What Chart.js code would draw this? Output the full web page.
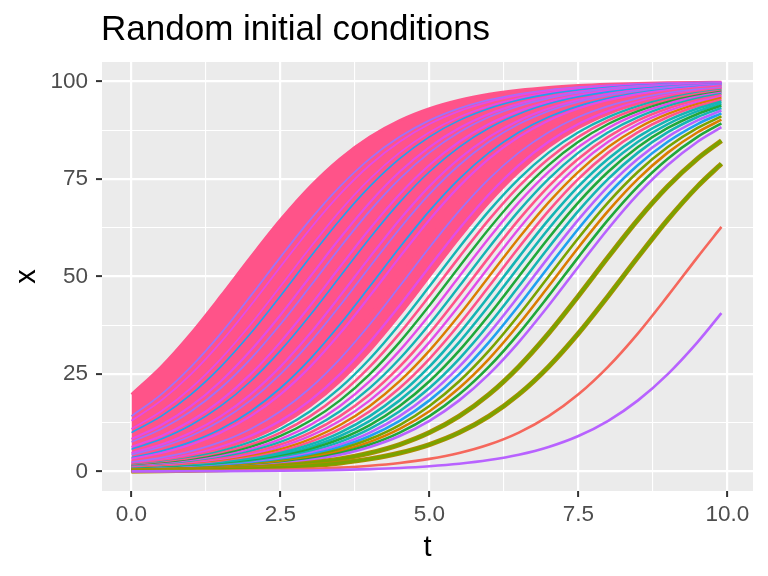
<!DOCTYPE html>
<html>
<head>
<meta charset="utf-8">
<title>Random initial conditions</title>
<script src="https://cdn.jsdelivr.net/npm/chart.js@4.4.1/dist/chart.umd.min.js"></script>
<style>
  html, body { margin: 0; padding: 0; background: #ffffff; }
  #wrap { width: 768px; height: 576px; }
</style>
</head>
<body>
<div id="wrap"><canvas id="chart" width="768" height="576"></canvas></div>
<script>
// time points the runs were read at
const times = [0, 0.5, 1, 1.5, 2, 2.5, 3, 3.5, 4, 4.5, 5, 5.5, 6, 6.5, 7, 7.5, 8, 8.5, 9, 9.5, 9.9];

// axis breaks + labels
const xBreaks = [0, 2.5, 5, 7.5, 10];
const xMinorBreaks = [1.25, 3.75, 6.25, 8.75];
const xLabels = ['0.0', '2.5', '5.0', '7.5', '10.0'];
const yBreaks = [0, 25, 50, 75, 100];
const yMinorBreaks = [12.5, 37.5, 62.5, 87.5];
const yLabels = ['0', '25', '50', '75', '100'];

const plotTitle = 'Random initial conditions';
const xTitle = 't';
const yTitle = 'x';

// dense pink sheaf: upper edge (lower edge is mid2 below)
const sheafTop    = [19.78, 26.89, 35.43, 45.02, 54.98, 64.57, 73.11, 80.22, 85.81, 90.03, 93.09, 95.26, 96.77, 97.81, 98.52, 99.00, 99.33, 99.55, 99.70, 99.80, 99.85];
const sheafInner  = [2.19, 3.23, 4.74, 6.91, 9.98, 14.19, 19.78, 26.89, 35.43, 45.02, 54.98, 64.57, 73.11, 80.22, 85.81, 90.03, 93.09, 95.26, 96.77, 97.81, 98.40];

// runs showing through the sheaf
const stripe1  = [14.19, 19.78, 26.89, 35.43, 45.02, 54.98, 64.57, 73.11, 80.22, 85.81, 90.03, 93.09, 95.26, 96.77, 97.81, 98.52, 99.00, 99.33, 99.55, 99.70, 99.78];
const stripe2  = [13.01, 18.24, 24.97, 33.18, 42.55, 52.50, 62.25, 71.10, 78.58, 84.55, 89.09, 92.41, 94.79, 96.44, 97.59, 98.37, 98.90, 99.26, 99.50, 99.67, 99.75];
const stripe3  = [10.91, 15.45, 21.42, 28.90, 37.75, 47.50, 57.45, 66.82, 75.03, 81.76, 86.99, 90.89, 93.70, 95.69, 97.07, 98.02, 98.66, 99.10, 99.39, 99.59, 99.71];
const stripe4  = [9.98, 14.19, 19.78, 26.89, 35.43, 45.02, 54.98, 64.57, 73.11, 80.22, 85.81, 90.03, 93.09, 95.26, 96.77, 97.81, 98.52, 99.00, 99.33, 99.55, 99.67];
const stripe5  = [8.32, 11.92, 16.80, 23.15, 31.00, 40.13, 50.00, 59.87, 69.00, 76.85, 83.20, 88.08, 91.68, 94.27, 96.08, 97.34, 98.20, 98.79, 99.18, 99.45, 99.60];
const stripe6  = [7.59, 10.91, 15.45, 21.42, 28.90, 37.75, 47.50, 57.45, 66.82, 75.03, 81.76, 86.99, 90.89, 93.70, 95.69, 97.07, 98.02, 98.66, 99.10, 99.39, 99.56];
const stripe7  = [6.30, 9.11, 13.01, 18.24, 24.97, 33.18, 42.55, 52.50, 62.25, 71.10, 78.58, 84.55, 89.09, 92.41, 94.79, 96.44, 97.59, 98.37, 98.90, 99.26, 99.46];
const stripe8  = [5.73, 8.32, 11.92, 16.80, 23.15, 31.00, 40.13, 50.00, 59.87, 69.00, 76.85, 83.20, 88.08, 91.68, 94.27, 96.08, 97.34, 98.20, 98.79, 99.18, 99.40];
const stripe9  = [4.74, 6.91, 9.98, 14.19, 19.78, 26.89, 35.43, 45.02, 54.98, 64.57, 73.11, 80.22, 85.81, 90.03, 93.09, 95.26, 96.77, 97.81, 98.52, 99.00, 99.27];
const stripe10 = [4.31, 6.30, 9.11, 13.01, 18.24, 24.97, 33.18, 42.55, 52.50, 62.25, 71.10, 78.58, 84.55, 89.09, 92.41, 94.79, 96.44, 97.59, 98.37, 98.90, 99.20];
const stripe11 = [3.56, 5.22, 7.59, 10.91, 15.45, 21.42, 28.90, 37.75, 47.50, 57.45, 66.82, 75.03, 81.76, 86.99, 90.89, 93.70, 95.69, 97.07, 98.02, 98.66, 99.02];
const stripe12 = [3.23, 4.74, 6.91, 9.98, 14.19, 19.78, 26.89, 35.43, 45.02, 54.98, 64.57, 73.11, 80.22, 85.81, 90.03, 93.09, 95.26, 96.77, 97.81, 98.52, 98.92];
const stripe13 = [2.66, 3.92, 5.73, 8.32, 11.92, 16.80, 23.15, 31.00, 40.13, 50.00, 59.87, 69.00, 76.85, 83.20, 88.08, 91.68, 94.27, 96.08, 97.34, 98.20, 98.68];
const stripe14 = [2.41, 3.56, 5.22, 7.59, 10.91, 15.45, 21.42, 28.90, 37.75, 47.50, 57.45, 66.82, 75.03, 81.76, 86.99, 90.89, 93.70, 95.69, 97.07, 98.02, 98.55];

// looser runs below the sheaf
const mid1  = [1.98, 2.93, 4.31, 6.30, 9.11, 13.01, 18.24, 24.97, 33.18, 42.55, 52.50, 62.25, 71.10, 78.58, 84.55, 89.09, 92.41, 94.79, 96.44, 97.59, 98.23];
const mid2  = [1.80, 2.66, 3.92, 5.73, 8.32, 11.92, 16.80, 23.15, 31.00, 40.13, 50.00, 59.87, 69.00, 76.85, 83.20, 88.08, 91.68, 94.27, 96.08, 97.34, 98.06];
const mid3  = [1.63, 2.41, 3.56, 5.22, 7.59, 10.91, 15.45, 21.42, 28.90, 37.75, 47.50, 57.45, 66.82, 75.03, 81.76, 86.99, 90.89, 93.70, 95.69, 97.07, 97.85];
const mid4  = [1.48, 2.19, 3.23, 4.74, 6.91, 9.98, 14.19, 19.78, 26.89, 35.43, 45.02, 54.98, 64.57, 73.11, 80.22, 85.81, 90.03, 93.09, 95.26, 96.77, 97.63];
const mid5  = [1.34, 1.98, 2.93, 4.31, 6.30, 9.11, 13.01, 18.24, 24.97, 33.18, 42.55, 52.50, 62.25, 71.10, 78.58, 84.55, 89.09, 92.41, 94.79, 96.44, 97.39];
const mid6  = [1.21, 1.80, 2.66, 3.92, 5.73, 8.32, 11.92, 16.80, 23.15, 31.00, 40.13, 50.00, 59.87, 69.00, 76.85, 83.20, 88.08, 91.68, 94.27, 96.08, 97.12];
const mid7  = [1.10, 1.63, 2.41, 3.56, 5.22, 7.59, 10.91, 15.45, 21.42, 28.90, 37.75, 47.50, 57.45, 66.82, 75.03, 81.76, 86.99, 90.89, 93.70, 95.69, 96.83];
const mid8  = [1.00, 1.48, 2.19, 3.23, 4.74, 6.91, 9.98, 14.19, 19.78, 26.89, 35.43, 45.02, 54.98, 64.57, 73.11, 80.22, 85.81, 90.03, 93.09, 95.26, 96.51];
const mid9  = [0.90, 1.34, 1.98, 2.93, 4.31, 6.30, 9.11, 13.01, 18.24, 24.97, 33.18, 42.55, 52.50, 62.25, 71.10, 78.58, 84.55, 89.09, 92.41, 94.79, 96.15];
const mid10 = [0.82, 1.21, 1.80, 2.66, 3.92, 5.73, 8.32, 11.92, 16.80, 23.15, 31.00, 40.13, 50.00, 59.87, 69.00, 76.85, 83.20, 88.08, 91.68, 94.27, 95.77];
const mid11 = [0.74, 1.10, 1.63, 2.41, 3.56, 5.22, 7.59, 10.91, 15.45, 21.42, 28.90, 37.75, 47.50, 57.45, 66.82, 75.03, 81.76, 86.99, 90.89, 93.70, 95.35];

// late starters
const late1  = [0.67, 1.00, 1.48, 2.19, 3.23, 4.74, 6.91, 9.98, 14.19, 19.78, 26.89, 35.43, 45.02, 54.98, 64.57, 73.11, 80.22, 85.81, 90.03, 93.09, 94.88];
const late2  = [0.61, 0.90, 1.34, 1.98, 2.93, 4.31, 6.30, 9.11, 13.01, 18.24, 24.97, 33.18, 42.55, 52.50, 62.25, 71.10, 78.58, 84.55, 89.09, 92.41, 94.37];
const late3  = [0.55, 0.82, 1.21, 1.80, 2.66, 3.92, 5.73, 8.32, 11.92, 16.80, 23.15, 31.00, 40.13, 50.00, 59.87, 69.00, 76.85, 83.20, 88.08, 91.68, 93.81];
const late4  = [0.50, 0.74, 1.10, 1.63, 2.41, 3.56, 5.22, 7.59, 10.91, 15.45, 21.42, 28.90, 37.75, 47.50, 57.45, 66.82, 75.03, 81.76, 86.99, 90.89, 93.21];
const late5  = [0.45, 0.67, 1.00, 1.48, 2.19, 3.23, 4.74, 6.91, 9.98, 14.19, 19.78, 26.89, 35.43, 45.02, 54.98, 64.57, 73.11, 80.22, 85.81, 90.03, 92.55];
const late6  = [0.41, 0.61, 0.90, 1.34, 1.98, 2.93, 4.31, 6.30, 9.11, 13.01, 18.24, 24.97, 33.18, 42.55, 52.50, 62.25, 71.10, 78.58, 84.55, 89.09, 91.83];
const late7  = [0.37, 0.55, 0.82, 1.21, 1.80, 2.66, 3.92, 5.73, 8.32, 11.92, 16.80, 23.15, 31.00, 40.13, 50.00, 59.87, 69.00, 76.85, 83.20, 88.08, 91.05];
const late8  = [0.33, 0.50, 0.74, 1.10, 1.63, 2.41, 3.56, 5.22, 7.59, 10.91, 15.45, 21.42, 28.90, 37.75, 47.50, 57.45, 66.82, 75.03, 81.76, 86.99, 90.20];
const late9  = [0.30, 0.45, 0.67, 1.00, 1.48, 2.19, 3.23, 4.74, 6.91, 9.98, 14.19, 19.78, 26.89, 35.43, 45.02, 54.98, 64.57, 73.11, 80.22, 85.81, 89.28];
const late10 = [0.27, 0.41, 0.61, 0.90, 1.34, 1.98, 2.93, 4.31, 6.30, 9.11, 13.01, 18.24, 24.97, 33.18, 42.55, 52.50, 62.25, 71.10, 78.58, 84.55, 88.28];
const late11 = [0.20, 0.30, 0.45, 0.67, 1.00, 1.48, 2.19, 3.23, 4.74, 6.91, 9.98, 14.19, 19.78, 26.89, 35.43, 45.02, 54.98, 64.57, 73.11, 80.22, 84.80];
const late12 = [0.14, 0.20, 0.30, 0.45, 0.67, 1.00, 1.48, 2.19, 3.23, 4.74, 6.91, 9.98, 14.19, 19.78, 26.89, 35.43, 45.02, 54.98, 64.57, 73.11, 78.91];
const late13 = [0.06, 0.09, 0.14, 0.20, 0.30, 0.45, 0.67, 1.00, 1.48, 2.19, 3.23, 4.74, 6.91, 9.98, 14.19, 19.78, 26.89, 35.43, 45.02, 54.98, 62.71];
const late14 = [0.02, 0.04, 0.06, 0.08, 0.12, 0.18, 0.27, 0.41, 0.61, 0.90, 1.34, 1.98, 2.93, 4.31, 6.30, 9.11, 13.01, 18.24, 24.97, 33.18, 40.61];

// colours
const PINK = '#FF5389', MAGENTA = '#E24CE8', LAVENDER = '#9E72FA', PURPLE = '#B862FF',
      BLUE = '#1FA0F0', TEAL = '#14B4B4', GREEN = '#1FA83A', OLIVE = '#78A300',
      GOLD = '#AE8C00', ORANGE = '#DB7C00', SALMON = '#F5675C';

// draw order: first is bottom
const runList = [
  [sheafTop, PINK, 2.6], [sheafInner, PINK, 2.6],
  [stripe1, LAVENDER, 1.8], [stripe2, MAGENTA, 1.8], [stripe3, MAGENTA, 1.8], [stripe4, BLUE, 1.6],
  [stripe5, MAGENTA, 2.2], [stripe6, LAVENDER, 1.8], [stripe7, MAGENTA, 2.2], [stripe8, BLUE, 1.6],
  [stripe9, MAGENTA, 2.2], [stripe10, LAVENDER, 1.8], [stripe11, BLUE, 1.8], [stripe12, MAGENTA, 2.2],
  [stripe13, PINK, 2.6], [stripe14, LAVENDER, 1.8],
  [mid1, MAGENTA, 2.4], [mid2, PINK, 2.6], [mid3, TEAL, 2.4], [mid4, PINK, 2.6], [mid5, GREEN, 2.4],
  [mid6, MAGENTA, 2.4], [mid7, TEAL, 2.4], [mid8, PINK, 2.6], [mid9, MAGENTA, 2.4], [mid10, ORANGE, 2.4],
  [mid11, PINK, 2.6],
  [late1, TEAL, 2.6], [late2, TEAL, 2.6], [late3, GREEN, 2.6], [late4, TEAL, 2.6], [late5, PURPLE, 2.6],
  [late6, BLUE, 2.6], [late7, OLIVE, 2.6], [late8, ORANGE, 2.6], [late9, GREEN, 2.6], [late10, PURPLE, 2.6],
  [late11, GOLD, 5], [late11, OLIVE, 3], [late12, GOLD, 5], [late12, OLIVE, 3],
  [late13, SALMON, 2.6], [late14, PURPLE, 2.6]
];
const sheafEdge = runList.findIndex(r => r[0] === mid2);

const FONT = '"Liberation Sans", Arial, Helvetica, sans-serif';

const datasets = runList.map(function(run, i) {
  return {
    data: times.map((t, k) => ({ x: t, y: run[0][k] })),
    borderColor: run[1],
    backgroundColor: run[1],
    borderWidth: run[2],
    fill: i === 0 ? { target: sheafEdge } : false,
    order: runList.length - i
  };
});

// grey panel + titles, ggplot style
const ggPanel = {
  id: 'ggPanel',
  beforeDraw(chart) {
    const { ctx, chartArea: a } = chart;
    ctx.save();
    ctx.fillStyle = '#FFFFFF';
    ctx.fillRect(0, 0, chart.width, chart.height);
    ctx.fillStyle = '#EBEBEB';
    ctx.fillRect(a.left, a.top, a.right - a.left, a.bottom - a.top);
    ctx.restore();
  },
  afterDraw(chart) {
    const { ctx, chartArea: a } = chart;
    ctx.save();
    ctx.fillStyle = '#000000';
    ctx.textBaseline = 'alphabetic';
    ctx.font = '35px ' + FONT;
    ctx.textAlign = 'left';
    ctx.fillText(plotTitle, a.left - 1, 40);
    ctx.font = '29px ' + FONT;
    ctx.textAlign = 'center';
    ctx.fillText(xTitle, (a.left + a.right) / 2, 556);
    ctx.translate(35, (a.top + a.bottom) / 2);
    ctx.rotate(-Math.PI / 2);
    ctx.fillText(yTitle, 0, 0);
    ctx.restore();
  }
};

function axisOptions(breaks, minor, labels, min, max) {
  const all = breaks.concat(minor).sort((a, b) => a - b);
  const isMajor = v => breaks.indexOf(v) !== -1;
  return {
    type: 'linear',
    min: min,
    max: max,
    bounds: 'data',
    afterBuildTicks: s => { s.ticks = all.map(v => ({ value: v })); },
    border: { display: false },
    grid: {
      color: '#FFFFFF',
      lineWidth: c => (c.tick && isMajor(c.tick.value)) ? 2.2 : 1.1,
      drawTicks: true,
      tickLength: 6,
      tickWidth: 2,
      tickColor: c => (c.tick && isMajor(c.tick.value)) ? '#333333' : 'rgba(0,0,0,0)'
    },
    ticks: {
      autoSkip: false,
      maxRotation: 0,
      minRotation: 0,
      color: '#4D4D4D',
      font: { family: FONT, size: 22.5 },
      callback: v => { const i = breaks.indexOf(v); return i === -1 ? '' : labels[i]; }
    }
  };
}

const xAxis = axisOptions(xBreaks, xMinorBreaks, xLabels, -0.495, 10.43);
xAxis.ticks.padding = 4;
xAxis.afterFit = s => { s.height = 85; };

const yAxis = axisOptions(yBreaks, yMinorBreaks, yLabels, -5, 105);
yAxis.ticks.padding = 8;
yAxis.afterFit = s => { s.width = 102; };

new Chart(document.getElementById('chart'), {
  type: 'line',
  data: { datasets: datasets },
  options: {
    responsive: false,
    devicePixelRatio: 1,
    animation: false,
    layout: { padding: { left: 0, right: 15, top: 62, bottom: 0 } },
    elements: {
      point: { radius: 0, hoverRadius: 0 },
      line: { cubicInterpolationMode: 'monotone', borderCapStyle: 'butt', borderJoinStyle: 'round' }
    },
    plugins: {
      legend: { display: false },
      tooltip: { enabled: false },
      title: { display: false }
    },
    scales: { x: xAxis, y: yAxis }
  },
  plugins: [ggPanel]
});
</script>
</body>
</html>
